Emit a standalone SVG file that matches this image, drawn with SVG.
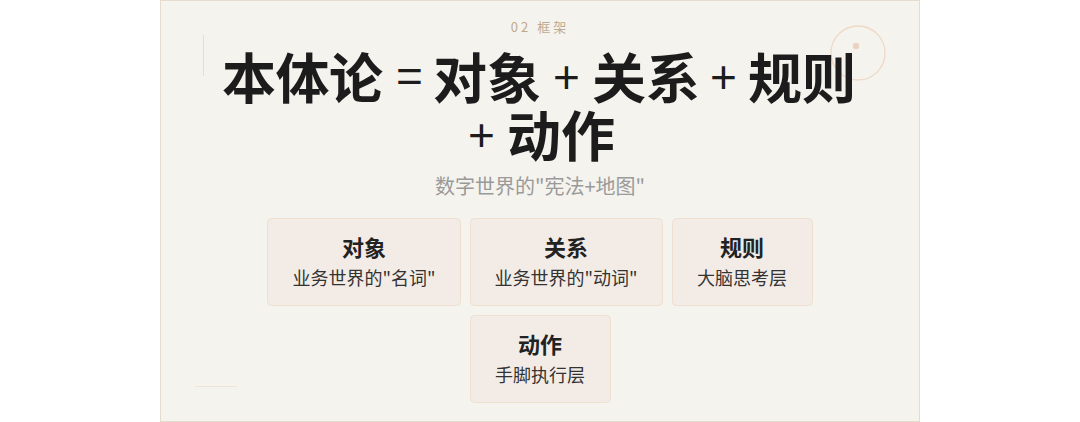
<svg xmlns="http://www.w3.org/2000/svg" width="1080" height="422" viewBox="0 0 1080 422">
<style>
.cjk{font-family:"Noto Sans CJK SC","Noto Sans",sans-serif}
.big{font-size:54px;font-weight:700;fill:#1c1c1c}
.op{font-size:46px;font-weight:400;font-family:"Liberation Sans","Noto Sans",sans-serif}
.box{fill:#f3ece6;stroke:#eedfcf;stroke-width:1}
.bt{font-size:22px;font-weight:700;fill:#222;text-anchor:middle}
.bs{font-size:18px;font-weight:400;fill:#333;text-anchor:middle}
</style>
<rect x="0" y="0" width="1080" height="422" fill="#ffffff"/>
<rect x="160.5" y="0.5" width="759" height="421" fill="#f5f3ee" stroke="#e6dccd" stroke-width="1"/>
<line x1="203.5" y1="35" x2="203.5" y2="76" stroke="#e8ddd0" stroke-width="1"/>
<line x1="195" y1="386.5" x2="237" y2="386.5" stroke="#efe3d6" stroke-width="1"/>
<circle cx="858" cy="53" r="27" fill="none" stroke="#eed9c6" stroke-width="1.3"/>
<circle cx="856" cy="46" r="3.2" fill="#ead3c0"/>
<text class="cjk" x="540" y="32" text-anchor="middle" font-size="13" letter-spacing="3" fill="#bfa98c">02 框架</text>
<g id="title">
<text class="cjk big" y="99"><tspan x="222" textLength="161">本体论</tspan><tspan class="op" x="396" y="92">=</tspan><tspan x="433" y="99">对象</tspan><tspan class="op" x="553" y="93">+</tspan><tspan x="592" y="99">关系</tspan><tspan class="op" x="710" y="93">+</tspan><tspan x="748" y="99">规则</tspan></text>
<text class="cjk big" y="157"><tspan class="op" x="468" y="151">+</tspan><tspan x="507" y="157">动作</tspan></text>
</g>
<text class="cjk" x="540" y="194" text-anchor="middle" font-size="20" fill="#9a9a9a">数字世界的"宪法+地图"</text>
<g id="node-object">
<rect class="box" x="267.5" y="218.5" width="193" height="87" rx="4"/>
<text class="cjk bt" x="364" y="256">对象</text>
<text class="cjk bs" x="364" y="285">业务世界的"名词"</text>
</g>
<g id="node-relation">
<rect class="box" x="470.5" y="218.5" width="192" height="87" rx="4"/>
<text class="cjk bt" x="566" y="256">关系</text>
<text class="cjk bs" x="566" y="285">业务世界的"动词"</text>
</g>
<g id="node-rule">
<rect class="box" x="672.5" y="218.5" width="140" height="87" rx="4"/>
<text class="cjk bt" x="742" y="256">规则</text>
<text class="cjk bs" x="742" y="285">大脑思考层</text>
</g>
<g id="node-action">
<rect class="box" x="470.5" y="315.5" width="140" height="87" rx="4"/>
<text class="cjk bt" x="540" y="353">动作</text>
<text class="cjk bs" x="540" y="382">手脚执行层</text>
</g>
<g id="connectors"></g>
</svg>
